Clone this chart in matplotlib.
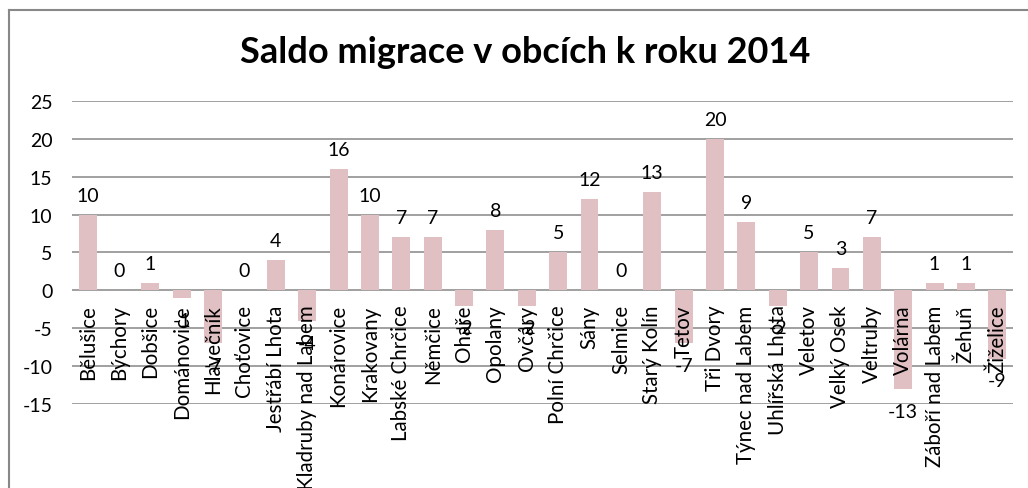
import matplotlib
matplotlib.use("Agg")
import matplotlib.pyplot as plt
from matplotlib.lines import Line2D

categories = ["Bělušice", "Býchory", "Dobšice", "Dománovice", "Hlavečník", "Choťovice",
              "Jestřábí Lhota", "Kladruby nad Labem", "Konárovice", "Krakovany",
              "Labské Chrčice", "Němčice", "Ohaře", "Opolany", "Ovčáry", "Polní Chrčice",
              "Sány", "Selmice", "Starý Kolín", "Tetov", "Tři Dvory", "Týnec nad Labem",
              "Uhlířská Lhota", "Veletov", "Velký Osek", "Veltruby", "Volárna",
              "Záboří nad Labem", "Žehuň", "Žiželice"]
values = [10, 0, 1, -1, -7, 0, 4, -4, 16, 10, 7, 7, -2, 8, -2, 5, 12, 0, 13, -7,
          20, 9, -2, 5, 3, 7, -13, 1, 1, -9]
title = "Saldo migrace v obcích k roku 2014"
yticks = [-15, -10, -5, 0, 5, 10, 15, 20, 25]

plt.rcParams['font.family'] = ['Lato', 'DejaVu Sans']

fig = plt.figure(figsize=(10.28, 4.89), dpi=100)
ax = fig.add_axes([0.070, 0.1718, 0.9154, 0.6196])

n = len(categories)
x = list(range(n))
ax.bar(x, values, width=0.57, color="#E0C0C2", zorder=2)
ax.set_xlim(-0.5, n - 0.5)
ax.set_ylim(-15, 25)
ax.set_yticks(yticks)
ax.set_yticklabels([str(t) for t in yticks], fontsize=14)
ax.tick_params(axis='y', length=0, pad=14)
ax.set_xticks([])
ax.grid(axis='y', color="#868686", linewidth=1.1, zorder=1)
for s in ax.spines.values():
    s.set_visible(False)

for xi, (c, v) in enumerate(zip(categories, values)):
    ax.annotate(c, (xi, 0), xytext=(0, -10), textcoords="offset points",
                rotation=90, ha="center", va="top", fontsize=14.8, zorder=4)
    if v >= 0:
        ax.annotate(str(v), (xi, v), xytext=(0, 8), textcoords="offset points",
                    ha="center", va="bottom", fontsize=14, zorder=4)
    else:
        ax.annotate(str(v), (xi, v), xytext=(0, -10), textcoords="offset points",
                    ha="center", va="top", fontsize=14, zorder=4)

fig.text(0.511, 0.893, title, ha="center", va="center", fontsize=26, fontweight="bold")

# chart frame
W, H = 1028, 489
fig.add_artist(Line2D([9 / W, 9 / W], [0, 1 - 11 / H], color="#888888", linewidth=1.5,
                      transform=fig.transFigure))
fig.add_artist(Line2D([9 / W, 1], [1 - 11 / H, 1 - 11 / H], color="#888888", linewidth=1.5,
                      transform=fig.transFigure))

fig.savefig("out.png", dpi=100)
